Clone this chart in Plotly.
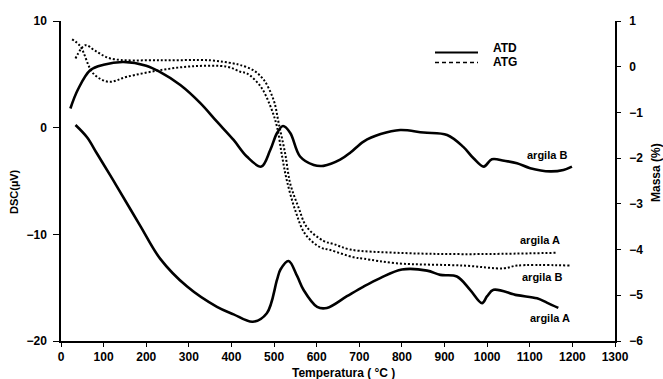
import plotly.graph_objects as go

# ATD (DSC signal, left axis) -- temperature in °C, signal in µV
atd_b_temp = [22, 40, 69, 100, 147, 200, 233, 280, 327, 366, 405, 436, 470, 491, 507, 521, 538, 561, 593, 616,
              655, 680, 710, 750, 796, 851, 906, 944, 968, 992, 1011, 1040, 1070, 1101, 1148, 1179, 1199]
atd_b_dsc = [1.8, 3.6, 5.4, 5.9, 6.15, 5.8, 5.2, 4.0, 2.3, 0.56, -1.15, -2.7, -3.65, -2.1, -0.5, 0.15, -0.5, -2.7, -3.5, -3.58,
             -3.0, -2.3, -1.3, -0.6, -0.22, -0.46, -0.68, -1.8, -2.87, -3.65, -2.96, -3.1, -3.33, -3.8, -4.1, -3.96, -3.65]

atd_a_temp = [34, 61, 84, 116, 131, 186, 233, 296, 366, 405, 450, 483, 507, 515, 534, 554, 569, 601, 624,
              671, 710, 749, 800, 859, 890, 929, 960, 988, 1000, 1015, 1070, 1117, 1140, 1167]
atd_a_dsc = [0.25, -0.9, -2.4, -4.5, -5.5, -9.2, -12.3, -14.9, -16.8, -17.5, -18.2, -17.4, -14.25, -13.3, -12.5, -13.9, -15.2, -16.8, -16.9,
             -15.8, -14.9, -14.1, -13.3, -13.4, -13.8, -13.95, -15.2, -16.45, -15.8, -15.2, -15.7, -16.0, -16.4, -16.9]

# ATG (mass loss, right axis) -- mass change in %
atg_a_temp = [34, 57, 80, 116, 233, 350, 405, 421, 451, 476, 499, 511, 526, 538, 557, 577, 616, 640, 679, 788, 945, 1164]
atg_a_mass = [0.18, 0.47, 0.35, 0.18, 0.14, 0.14, 0.07, 0.035, -0.075, -0.29, -0.73, -1.24, -1.9, -2.56, -3.07, -3.51, -3.81, -3.88, -4.0, -4.07, -4.1, -4.07]

atg_b_temp = [26, 45, 76, 112, 155, 233, 310, 390, 421, 437, 469, 492, 507, 519, 530, 550, 573, 608, 632, 687, 710, 788, 945, 1039, 1070, 1195]
atg_b_mass = [0.60, 0.45, -0.15, -0.33, -0.22, -0.075, 0.01, 0.0, -0.11, -0.15, -0.44, -0.88, -1.32, -1.97, -2.49, -3.15, -3.66, -3.95, -4.01, -4.17, -4.2, -4.3, -4.35, -4.41, -4.35, -4.35]

x_ticks = list(range(0, 1301, 100))
left_ticks = [-20, -10, 0, 10]
right_ticks = [-6, -5, -4, -3, -2, -1, 0, 1]

FONT = "Liberation Sans, Arial, sans-serif"
solid = dict(color="black", width=2.6)
dotted = dict(color="black", width=2, dash="2px,2px")

fig = go.Figure()
fig.add_trace(go.Scatter(x=atd_b_temp, y=atd_b_dsc, mode="lines", name="ATD argila B", line=solid,
                         line_shape="spline"))
fig.add_trace(go.Scatter(x=atd_a_temp, y=atd_a_dsc, mode="lines", name="ATD argila A", line=solid,
                         line_shape="spline"))
fig.add_trace(go.Scatter(x=atg_a_temp, y=atg_a_mass, mode="lines", name="ATG argila A", line=dotted,
                         line_shape="spline", yaxis="y2"))
fig.add_trace(go.Scatter(x=atg_b_temp, y=atg_b_mass, mode="lines", name="ATG argila B", line=dotted,
                         line_shape="spline", yaxis="y2"))

bold = lambda size: dict(family=FONT, size=size, color="black", weight="bold")

# curve labels
labels = [
    ("argila B", 1141, -2.55),
    ("argila A", 1124, -10.5),
    ("argila B", 1128, -14.0),
    ("argila A", 1148, -17.8),
]
for text, tx, ty in labels:
    fig.add_annotation(x=tx, y=ty, xref="x", yref="y", text=text, showarrow=False, font=bold(11))

# plot area in pixels: left 61, right 615, top 21, bottom 341
L, R, T, B = 61, 615, 21, 341
px = lambda v: (v - L) / (R - L)
py = lambda v: 1 - (v - T) / (B - T)

# key: line samples with their method names
fig.add_shape(type="line", xref="paper", yref="paper", x0=px(435), x1=px(478), y0=py(52.5), y1=py(52.5),
              line=dict(color="black", width=2))
fig.add_shape(type="line", xref="paper", yref="paper", x0=px(435), x1=px(478), y0=py(62.5), y1=py(62.5),
              line=dict(color="black", width=1.6, dash="4px,3px"))
for text, ty in [("ATD", 48), ("ATG", 62)]:
    fig.add_annotation(x=px(491), y=py(ty), xref="paper", yref="paper", text=text, showarrow=False,
                       xanchor="left", yanchor="middle", font=bold(12))

# axis titles
fig.add_annotation(x=px(14), y=py(192), xref="paper", yref="paper", text="DSC(µV)", showarrow=False,
                   textangle=-90, xanchor="center", yanchor="middle", font=bold(11))
fig.add_annotation(x=px(656), y=py(173), xref="paper", yref="paper", text="Massa (%)", showarrow=False,
                   textangle=-90, xanchor="center", yanchor="middle", font=bold(12))
fig.add_annotation(x=px(343), y=py(372.5), xref="paper", yref="paper", text="Temperatura ( °C )",
                   showarrow=False, xanchor="center", yanchor="middle", font=bold(12))

axis_font = bold(12)

fig.update_layout(
    width=663, height=379,
    margin=dict(l=L, r=663 - R, t=T, b=379 - B, autoexpand=False),
    paper_bgcolor="white", plot_bgcolor="white",
    showlegend=False,
    xaxis=dict(range=[0, 1300], tickvals=x_ticks, showgrid=False, zeroline=False, automargin=False,
               showline=True, linecolor="black", linewidth=1.5, ticks="outside", ticklen=4,
               tickcolor="black", tickfont=axis_font, ticklabelstandoff=0),
    yaxis=dict(range=[-20, 10], tickvals=left_ticks, showgrid=False, zeroline=False, automargin=False,
               showline=True, linecolor="black", linewidth=1.5, ticks="outside", ticklen=6,
               tickcolor="black", tickfont=axis_font, ticklabelstandoff=4),
    yaxis2=dict(range=[-6, 1], tickvals=right_ticks, overlaying="y", side="right", showgrid=False,
                zeroline=False, showline=True, linecolor="black", linewidth=1.5, ticks="outside",
                automargin=False, ticklen=4, tickcolor="black", tickfont=axis_font, ticklabelstandoff=6),
)

fig.write_html("out.html")
